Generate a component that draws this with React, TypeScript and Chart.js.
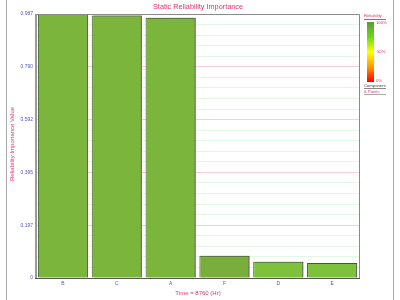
import React, { useEffect, useRef } from "react";
import { Chart, registerables } from "chart.js";

Chart.register(...registerables);

const categories = ["B", "C", "A", "F", "D", "E"];
const importanceValues = [0.987, 0.981, 0.973, 0.083, 0.061, 0.056];
const barColors = ["#7cb53b", "#7cb53b", "#7cb53b", "#79ae3a", "#7ec23c", "#7ec23c"];
const yTickLabels = ["0", "0.197", "0.395", "0.592", "0.790", "0.987"];
const yMax = 0.987;
const minorPerMajor = 5;
const legendTitle = "Reliability";
const legendLabels = ["100%", "50%", "0%"];
const chartTitle = "Static Reliability Importance";
const xTitle = "Time = 8760 (Hr)";
const yTitle = "Reliability Importance Value";

const FONT = "'Liberation Sans', Arial, sans-serif";
const RED = "#e8336a";
const BLUE = "#5555cc";

const decor = {
  id: "decor",
  beforeDatasetsDraw(chart: any) {
    const ctx = chart.ctx;
    ctx.save();
    ctx.shadowColor = "rgba(100,100,100,0.9)";
    ctx.shadowOffsetX = 2;
    ctx.shadowOffsetY = 0;
    ctx.shadowBlur = 0;
  },
  afterDatasetsDraw(chart: any) {
    const ctx = chart.ctx;
    ctx.restore();
    const a = chart.chartArea;
    ctx.save();
    ctx.strokeStyle = "#8a8a8a";
    ctx.lineWidth = 1;
    ctx.beginPath();
    ctx.moveTo(a.left, a.top + 0.5);
    ctx.lineTo(a.right + 0.5, a.top + 0.5);
    ctx.lineTo(a.right + 0.5, a.bottom);
    ctx.stroke();
    ctx.fillStyle = "#9a9a9a";
    ctx.fillRect(a.left - 1, a.top, 2, a.bottom - a.top);
    ctx.strokeStyle = "#555";
    ctx.beginPath();
    ctx.moveTo(a.left - 1, a.bottom + 0.5);
    ctx.lineTo(a.right + 1, a.bottom + 0.5);
    ctx.stroke();
    ctx.restore();
  },
  afterDraw(chart: any) {
    const ctx = chart.ctx;
    const a = chart.chartArea;
    ctx.save();
    // outer vertical lines
    ctx.strokeStyle = "#a8a8a8";
    ctx.lineWidth = 1;
    ctx.beginPath();
    ctx.moveTo(6.5, 0);
    ctx.lineTo(6.5, 300);
    ctx.moveTo(393.5, 0);
    ctx.lineTo(393.5, 300);
    ctx.stroke();

    // titles
    ctx.fillStyle = RED;
    ctx.textAlign = "center";
    ctx.textBaseline = "middle";
    ctx.font = `7.3px ${FONT}`;
    ctx.fillText(chartTitle, 198, 7);
    ctx.font = `6px ${FONT}`;
    ctx.fillText(xTitle, 198, 293);
    ctx.save();
    ctx.translate(12, 144);
    ctx.rotate(-Math.PI / 2);
    ctx.fillText(yTitle, 0, 0);
    ctx.restore();

    // legend
    const gx = 367, gy = 22, gw = 7, gh = 60;
    const g = ctx.createLinearGradient(0, gy, 0, gy + gh);
    g.addColorStop(0, "#5e9a34");
    g.addColorStop(0.25, "#6fd61c");
    g.addColorStop(0.5, "#ffff00");
    g.addColorStop(0.75, "#ff9a00");
    g.addColorStop(1, "#ff0000");
    ctx.fillStyle = g;
    ctx.fillRect(gx, gy, gw, gh);
    ctx.font = `4.2px ${FONT}`;
    ctx.fillStyle = RED;
    ctx.textAlign = "left";
    ctx.fillText(legendTitle, 364, 15.5);
    ctx.strokeStyle = "#777";
    ctx.beginPath();
    ctx.moveTo(364, 19.5);
    ctx.lineTo(386, 19.5);
    ctx.stroke();
    ctx.fillText(legendLabels[0], 376, gy + 1);
    ctx.fillText(legendLabels[1], 377, gy + gh / 2);
    ctx.fillText(legendLabels[2], 376, gy + gh - 1);
    ctx.fillStyle = "#444";
    ctx.fillText("Component", 364, 86);
    ctx.strokeStyle = "#888";
    ctx.beginPath();
    ctx.moveTo(364, 88.5);
    ctx.lineTo(386, 88.5);
    ctx.stroke();
    ctx.fillStyle = RED;
    ctx.fillText("& Points", 364, 91.5);
    ctx.strokeStyle = "#aaa";
    ctx.beginPath();
    ctx.moveTo(364, 94.5);
    ctx.lineTo(386, 94.5);
    ctx.stroke();
    ctx.restore();
  },
};

export default function App() {
  const ref = useRef<HTMLCanvasElement>(null);
  useEffect(() => {
    const chart = new Chart(ref.current as HTMLCanvasElement, {
      type: "bar",
      data: {
        labels: categories,
        datasets: [
          {
            data: importanceValues,
            backgroundColor: barColors,
            borderColor: "#3e5e24",
            borderWidth: 1,
            barPercentage: 0.93,
            categoryPercentage: 1,
          },
        ],
      },
      options: {
        responsive: false,
        animation: false,
        layout: { padding: { top: 14, right: 41, left: 0, bottom: 0 } },
        plugins: { legend: { display: false }, tooltip: { enabled: false }, title: { display: false } },
        scales: {
          x: {
            grid: { display: false, drawTicks: false },
            border: { display: false },
            ticks: { color: BLUE, font: { size: 5, family: FONT }, padding: 3, maxRotation: 0 },
            afterFit: (s: any) => {
              s.height = 22;
            },
          },
          y: {
            min: 0,
            max: yMax,
            border: { display: false },
            afterBuildTicks: (s: any) => {
              const n = (yTickLabels.length - 1) * minorPerMajor;
              s.ticks = Array.from({ length: n + 1 }, (_, i) => ({ value: (yMax * i) / n }));
            },
            afterFit: (s: any) => {
              s.width = 36;
            },
            grid: {
              drawTicks: false,
              color: (c: any) => (c.index % minorPerMajor === 0 ? "#f8cdd6" : "#e4f6e4"),
            },
            ticks: {
              color: BLUE,
              font: { size: 5, family: FONT },
              padding: 3,
              autoSkip: false,
              callback: (_v: any, i: number) => (i % minorPerMajor === 0 ? yTickLabels[i / minorPerMajor] : ""),
            },
          },
        },
      },
      plugins: [decor],
    });
    return () => chart.destroy();
  }, []);
  return (
    <canvas
      ref={ref}
      width={400}
      height={300}
      style={{ position: "fixed", left: 0, top: 0, width: 400, height: 300 }}
    />
  );
}
